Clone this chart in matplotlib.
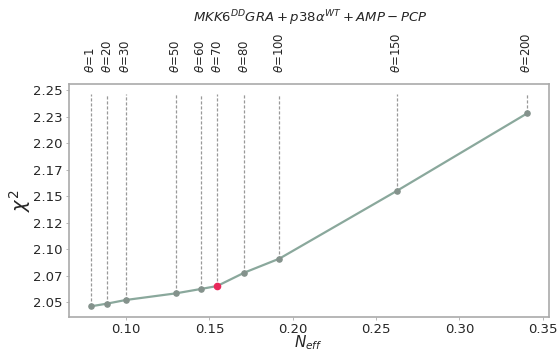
import matplotlib
matplotlib.use("Agg")
import matplotlib.pyplot as plt

n_eff = [0.0787, 0.0886, 0.0997, 0.1299, 0.1448, 0.1546, 0.1710, 0.1920, 0.2624, 0.3406]
chi2 = [2.0459, 2.0485, 2.0519, 2.0582, 2.0623, 2.0651, 2.0778, 2.0910, 2.1549, 2.2281]
theta = [1, 20, 30, 50, 60, 70, 80, 100, 150, 200]
best_idx = 5
ytick_vals = [2.05, 2.075, 2.10, 2.125, 2.15, 2.175, 2.20, 2.225, 2.25]
ytick_labels = ["2.05", "2.07", "2.10", "2.12", "2.15", "2.17", "2.20", "2.23", "2.25"]
xtick_vals = [0.10, 0.15, 0.20, 0.25, 0.30, 0.35]
title = r"$MKK6^{DD}GRA + p38\alpha^{WT} + AMP - PCP$"

fig = plt.figure(figsize=(5.6, 3.51), dpi=100)
ax = fig.add_axes([0.123, 0.097, 0.857, 0.664])

line_color = "#8aa89c"
marker_color = "#84928c"
red = "#e8285a"
spine_color = "#aaaaaa"
text_color = "#262626"

ax.vlines(n_eff, chi2, 2.246, colors="#999999", linestyles=(0, (2.5, 1.5)), linewidth=0.9, zorder=1)
ax.plot(n_eff, chi2, color=line_color, linewidth=1.6, zorder=2)
ax.scatter([x for i, x in enumerate(n_eff) if i != best_idx],
           [y for i, y in enumerate(chi2) if i != best_idx],
           s=14, color=marker_color, zorder=3)
ax.scatter([n_eff[best_idx]], [chi2[best_idx]], s=20, color=red, zorder=4)

ax.set_yticks(ytick_vals)
ax.set_yticklabels(ytick_labels)
ax.set_xticks(xtick_vals)
ax.set_xticklabels([f"{v:.2f}" for v in xtick_vals])
ax.tick_params(axis="both", labelsize=9.5, colors=text_color, length=2, width=0.6, pad=2.5)
ax.tick_params(axis="both", color=spine_color)
for s in ax.spines.values():
    s.set_color(spine_color)
    s.set_linewidth(1.2)

ax.set_xlabel(r"$N_{eff}$", fontsize=11, color=text_color, labelpad=-2)
ax.set_ylabel(r"$\chi^2$", fontsize=14, color=text_color, labelpad=0)

xlim = ax.get_xlim()
ax2 = ax.twiny()
ax2.set_xlim(xlim)
ax2.set_xticks(n_eff)
ax2.set_xticklabels([rf"$\theta$={t}" for t in theta], rotation=90, fontsize=8.5, color=text_color)
ax2.tick_params(axis="x", length=0, pad=8)
for s in ax2.spines.values():
    s.set_visible(False)

fig.text(0.555, 0.948, title, ha="center", va="center", fontsize=9.5, color=text_color)

fig.savefig("out.png", dpi=100, facecolor="white")
